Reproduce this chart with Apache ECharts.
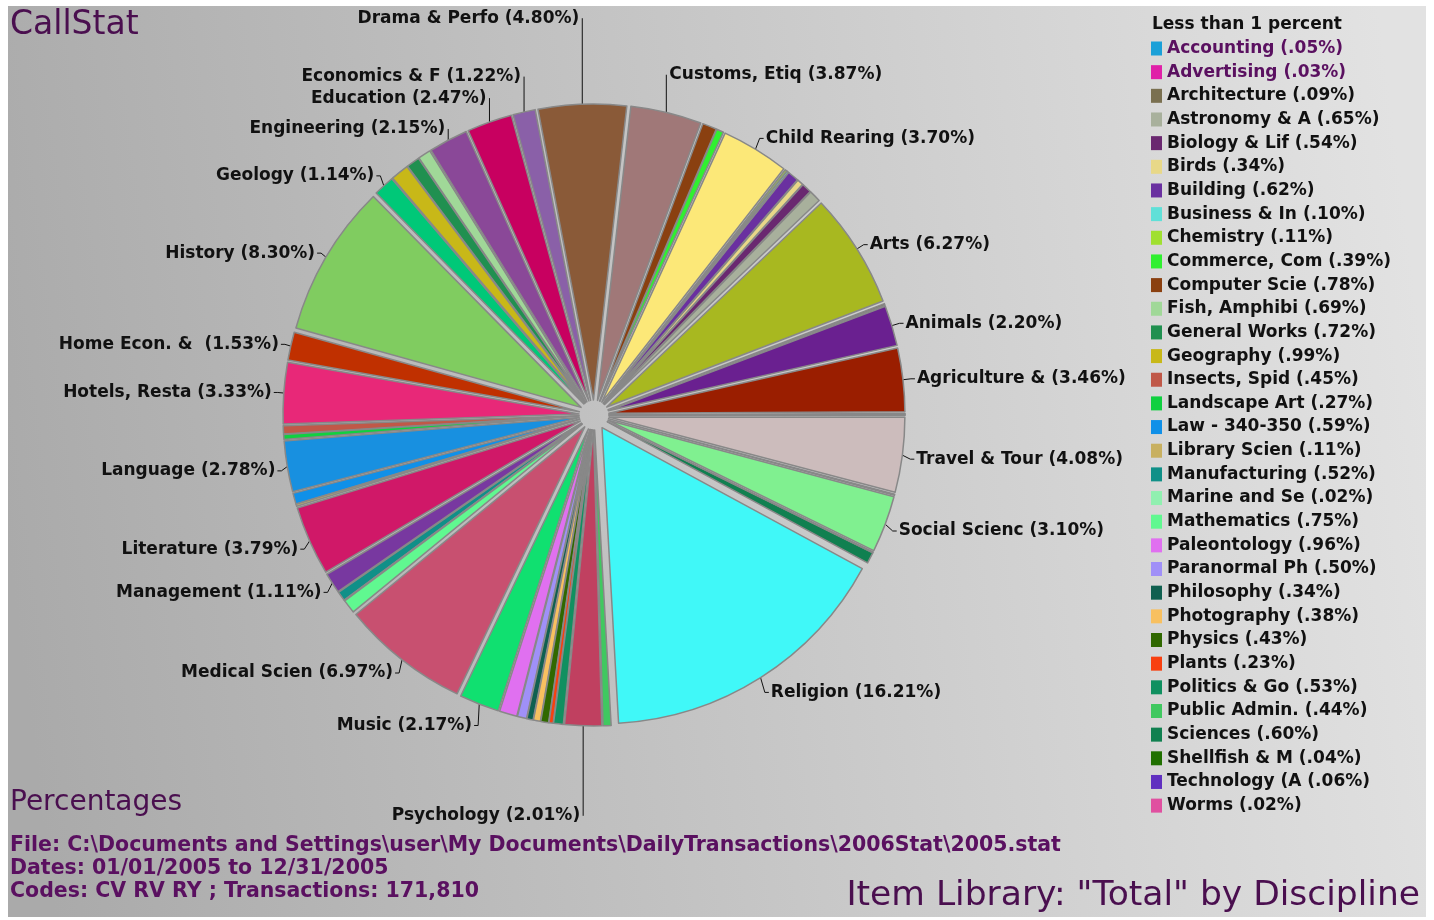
<!DOCTYPE html>
<html>
<head>
<meta charset="utf-8">
<script src="https://cdn.jsdelivr.net/npm/echarts@6/dist/echarts.min.js"></script>
<style>
  html, body { margin: 0; padding: 0; background: #fff; }
  #chart { width: 1434px; height: 920px; }
</style>
</head>
<body>
<div id="chart"></div>
<script>
// disciplines in alphabetical order, percent of total transactions
const names = [
  "Accounting", "Advertising", "Agriculture &", "Animals", "Architecture",
  "Arts", "Astronomy & A", "Biology & Lif", "Birds", "Building",
  "Business & In", "Chemistry", "Child Rearing", "Commerce, Com", "Computer Scie",
  "Customs, Etiq", "Drama & Perfo", "Economics & F", "Education", "Engineering",
  "Fish, Amphibi", "General Works", "Geography", "Geology", "History",
  "Home Econ. & ", "Hotels, Resta", "Insects, Spid", "Landscape Art", "Language",
  "Law - 340-350", "Library Scien", "Literature", "Management", "Manufacturing",
  "Marine and Se", "Mathematics", "Medical Scien", "Music", "Paleontology",
  "Paranormal Ph", "Philosophy", "Photography", "Physics", "Plants",
  "Politics & Go", "Psychology", "Public Admin.", "Religion", "Sciences",
  "Shellfish & M", "Social Scienc", "Technology (A", "Travel & Tour", "Worms"
];
const values = [
  0.05, 0.03, 3.46, 2.20, 0.09,
  6.27, 0.65, 0.54, 0.34, 0.62,
  0.10, 0.11, 3.70, 0.39, 0.78,
  3.87, 4.80, 1.22, 2.47, 2.15,
  0.69, 0.72, 0.99, 1.14, 8.30,
  1.53, 3.33, 0.45, 0.27, 2.78,
  0.59, 0.11, 3.79, 1.11, 0.52,
  0.02, 0.75, 6.97, 2.17, 0.96,
  0.50, 0.34, 0.38, 0.43, 0.23,
  0.53, 2.01, 0.44, 16.21, 0.60,
  0.04, 3.10, 0.06, 4.08, 0.02
];
const colors = [
  "#1aa0d8", "#e020a8", "#9a1e00", "#6a2090", "#7a7050",
  "#a8b820", "#a8b09c", "#6a2870", "#e8d888", "#6a30a0",
  "#60e0d8", "#a0e030", "#fce878", "#30f030", "#8a4010",
  "#a07878", "#8a5a38", "#8a60a8", "#c80060", "#8a4898",
  "#a0d898", "#209050", "#c8b818", "#00c878", "#80cc60",
  "#c03000", "#e82878", "#c05848", "#10d040", "#1890e0",
  "#1090e8", "#c8b060", "#d01868", "#7838a0", "#109088",
  "#90f0b0", "#60f890", "#c85070", "#10e070", "#e070f0",
  "#a090f8", "#106050", "#f8c060", "#306800", "#f84010",
  "#109060", "#c04060", "#40c860", "#40f8f8", "#108050",
  "#207000", "#80f090", "#6030c0", "#ccbcbc", "#e050a0"
];
// legend items drawn in purple
const highlighted = ["Accounting", "Advertising"];

// vertical nudges of some outside labels, and the ones hung on a vertical leader
const labelNudge = {
  "Drama & Perfo": -78, "Customs, Etiq": -30, "Economics & F": -39, "Education": -37,
  "Engineering": -26, "Geology": -4, "Child Rearing": -4, "Language": 3,
  "Literature": 5, "Management": 5, "Medical Scien": 7, "Music": 14,
  "Psychology": 82, "Travel & Tour": 3, "Social Scienc": 4, "Religion": 8
};
const verticalLead = ["Drama & Perfo", "Customs, Etiq", "Economics & F", "Education",
  "Engineering", "Psychology"];

const labelFont = "DejaVu Sans";
const pieData = names.map((n, i) => {
  const big = values[i] >= 1;
  return {
    name: n,
    value: values[i],
    selected: true,
    itemStyle: { color: colors[i] },
    label: { show: big },
    labelLine: { show: big }
  };
});
const smallNames = names.filter((n, i) => values[i] < 1);
const valueOf = {};
names.forEach((n, i) => { valueOf[n] = values[i]; });

const chart = echarts.init(document.getElementById("chart"));
chart.setOption({
  animation: false,
  graphic: [
    {
      type: "rect", silent: true, z: -10,
      shape: { x: 8, y: 6, width: 1418, height: 911 },
      style: {
        fill: new echarts.graphic.LinearGradient(0, 0.6, 1, 0.4, [
          { offset: 0, color: "#aaaaaa" },
          { offset: 1, color: "#e2e2e2" }
        ])
      }
    },
    { type: "text", left: 10, top: 9,
      style: { text: "CallStat", fontSize: 33, fontFamily: "DejaVu Sans", fill: "#4a0f4f" } },
    { type: "text", left: 10, top: 789,
      style: { text: "Percentages", fontSize: 28, fontFamily: "DejaVu Sans", fill: "#4a0f4f" } },
    { type: "text", left: 10, top: 835,
      style: { text: "File: C:\\Documents and Settings\\user\\My Documents\\DailyTransactions\\2006Stat\\2005.stat",
        fontSize: 20.5, fontWeight: "bold", fontFamily: labelFont, fill: "#5a1060" } },
    { type: "text", left: 10, top: 858,
      style: { text: "Dates: 01/01/2005 to 12/31/2005",
        fontSize: 20.5, fontWeight: "bold", fontFamily: labelFont, fill: "#5a1060" } },
    { type: "text", left: 10, top: 881,
      style: { text: "Codes: CV RV RY ; Transactions: 171,810",
        fontSize: 20.5, fontWeight: "bold", fontFamily: labelFont, fill: "#5a1060" } },
    { type: "text", right: 14, top: 879,
      style: { text: "Item Library: \"Total\" by Discipline", fontSize: 34.5,
        fontFamily: "DejaVu Sans", fill: "#4a0f4f" } },
    { type: "text", left: 1152, top: 16,
      style: { text: "Less than 1 percent", fontSize: 17, fontWeight: "bold",
        fontFamily: labelFont, fill: "#111" } }
  ],
  legend: {
    orient: "vertical",
    left: 1151,
    top: 40,
    icon: "rect",
    itemWidth: 11,
    itemHeight: 14,
    itemGap: 6.66,
    padding: 0,
    selectedMode: false,
    itemStyle: { borderWidth: 0 },
    data: smallNames,
    formatter: function (n) {
      const t = n + " (" + valueOf[n].toFixed(2).replace(/^0/, "") + "%)";
      return highlighted.indexOf(n) >= 0 ? "{p|" + t + "}" : t;
    },
    textStyle: {
      fontFamily: labelFont, fontWeight: "bold", fontSize: 17, color: "#111",
      rich: { p: { fontFamily: labelFont, fontWeight: "bold", fontSize: 17, color: "#5a1060" } }
    }
  },
  series: [{
    type: "pie",
    center: [594, 415],
    radius: 296,
    startAngle: 0,
    clockwise: false,
    selectedMode: "multiple",
    selectedOffset: 15,
    avoidLabelOverlap: true,
    data: pieData,
    itemStyle: { borderColor: "#888", borderWidth: 1.5 },
    select: { itemStyle: { borderColor: "#888", borderWidth: 1.5 } },
    emphasis: { disabled: true },
    label: {
      show: true,
      position: "outside",
      formatter: p => p.name + " (" + p.value.toFixed(2) + "%)",
      fontFamily: labelFont,
      fontWeight: "bold",
      fontSize: 17,
      color: "#111",
      distanceToLabelLine: 2
    },
    labelLine: {
      show: true,
      length: 8,
      length2: 4,
      lineStyle: { color: "#111", width: 1 }
    },
    labelLayout: function (p) {
      const pts = p.labelLinePoints;
      if (!pts) return {};
      const name = names[p.dataIndex];
      const dy = labelNudge[name] || 0;
      const r = p.labelRect;
      const leftSide = pts[2][0] < pts[0][0];
      const ax0 = leftSide ? r.x + r.width : r.x;
      let ax = ax0;
      const ay = r.y + r.height / 2 + dy;
      let newPts;
      if (verticalLead.indexOf(name) >= 0) {
        const lx = pts[0][0];
        ax = leftSide ? lx - 3 : lx + 3;
        newPts = [pts[0], [lx, ay], [lx, ay]];
      } else {
        newPts = [pts[0], [pts[1][0], pts[1][1] + dy], [pts[2][0], pts[2][1] + dy]];
      }
      return { dx: ax - ax0, dy: dy, labelLinePoints: newPts };
    }
  }]
});
</script>
</body>
</html>
